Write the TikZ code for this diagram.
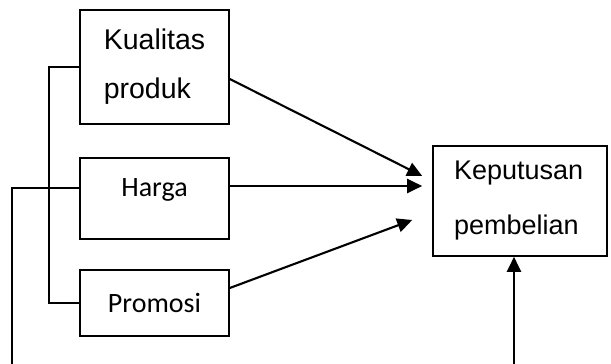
\documentclass[tikz,border=0pt]{standalone}
\usepackage{fontspec}
\setmainfont{Liberation Sans}
\newfontfamily\calfont{Carlito}
\usetikzlibrary{arrows.meta}
\tikzset{
  varbox/.style={draw, line width=1.6pt, inner sep=0pt, minimum width=149pt},
  arial/.style={font=\fontsize{27}{55}\selectfont},
  calibri/.style={font=\calfont\fontsize{28}{34}\selectfont},
}
\begin{document}
\begin{tikzpicture}[x=1pt, y=1pt, >={Triangle[length=15pt,width=14pt]}, line width=2.1pt]
\useasboundingbox (0,0) rectangle (611,364);
\node[varbox, minimum height=114pt, align=left, font=\fontsize{28.5}{49}\selectfont] (kual) at (154.5,297) {Kualitas\\produk};
\node[varbox, calibri, minimum height=81pt, text depth=21pt] (harga) at (154.5,165.5) {Harga};
\node[varbox, calibri, minimum height=66pt] (promo) at (154.5,61) {Promosi};
\node[varbox, arial, minimum width=174pt, minimum height=110pt, align=left, text width=132pt] (kep) at (520,163) {Keputusan\\pembelian};
\coordinate (kiri) at (12,0);
\coordinate (bawah) at (514,0);

\draw[->]([yshift=-12pt]kual.east)--([shift={(-10pt,25pt)}]kep.west);
\draw[->]([yshift=12.5pt]harga.east)--([shift={(-10pt,15pt)}]kep.west);
\draw[->]([yshift=15pt]promo.east)--([shift={(-20pt,-19pt)}]kep.west);
\draw[line width=1.6pt](kual.west)--++(-30,0)|-(promo.west);
\draw[line width=1.6pt]([yshift=10.5pt]harga.west)-|(kiri);
\draw[->](bawah)--(bawah|-kep.south);


\end{tikzpicture}
\end{document}
